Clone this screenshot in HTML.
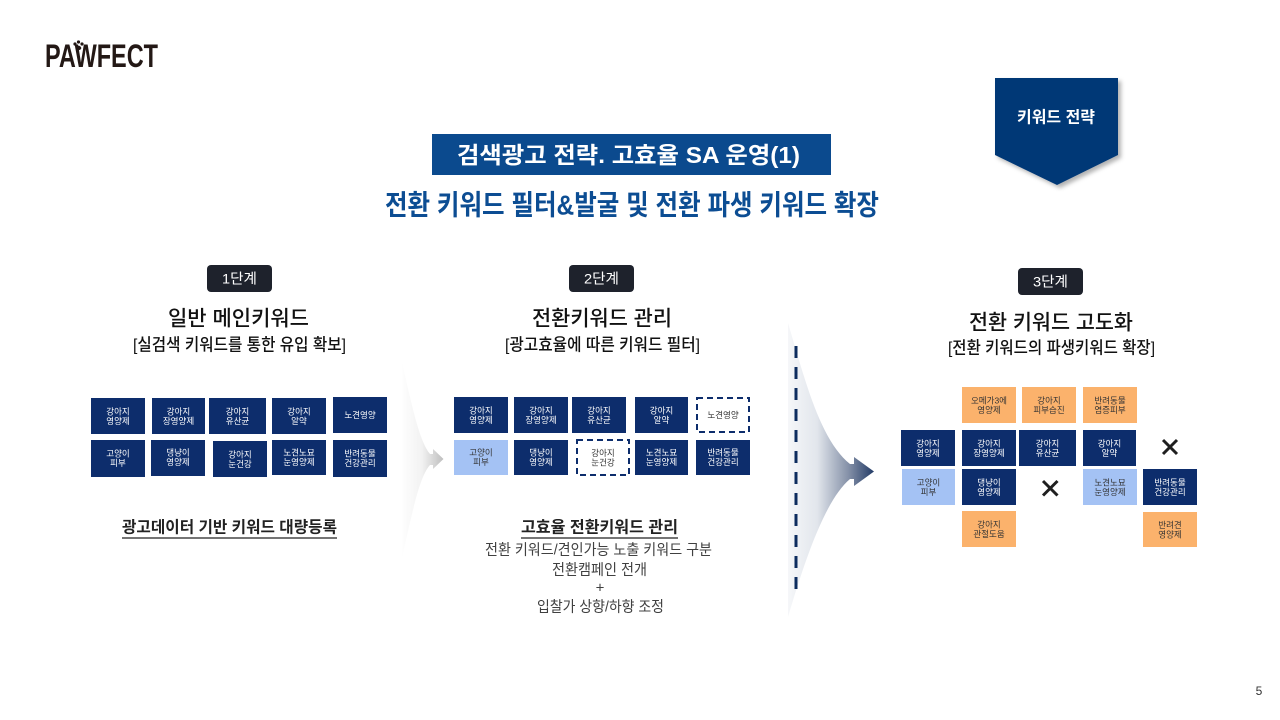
<!DOCTYPE html>
<html><head><meta charset="utf-8"><style>
html,body{margin:0;padding:0;background:#fff;}
svg{display:block;}
text{font-family:"Liberation Sans","Noto Sans CJK KR",sans-serif;}
.bw{fill:#fff;font-size:8.5px;text-anchor:middle;dominant-baseline:central;}
.bd{fill:#333;font-size:8.5px;text-anchor:middle;dominant-baseline:central;}
.navy{fill:#0d2d6c;}
.lb{fill:#a4c2f4;}
.or{fill:#fbb26c;}
</style></head><body>
<svg width="1280" height="720" viewBox="0 0 1280 720" xmlns="http://www.w3.org/2000/svg">
<defs>
<linearGradient id="g1" gradientUnits="userSpaceOnUse" x1="400" y1="0" x2="444" y2="0">
<stop offset="0" stop-color="#ffffff"/><stop offset="0.5" stop-color="#f2f2f2"/><stop offset="1" stop-color="#bdbdbd"/>
</linearGradient>
<linearGradient id="g2" gradientUnits="userSpaceOnUse" x1="786" y1="0" x2="875" y2="0">
<stop offset="0" stop-color="#f7f8fa"/><stop offset="0.35" stop-color="#e2e6ec"/><stop offset="0.7" stop-color="#8591a8"/><stop offset="1" stop-color="#1f3864"/>
</linearGradient>
<filter id="sh" x="-20%" y="-20%" width="140%" height="140%">
<feDropShadow dx="3" dy="3" stdDeviation="2" flood-color="#000" flood-opacity="0.3"/>
</filter>
</defs>

<!-- Logo -->
<text x="45" y="67" font-size="32" font-weight="bold" fill="#231815" textLength="113" lengthAdjust="spacingAndGlyphs">PAWFECT</text>
<g fill="#231815">
<circle cx="75" cy="44" r="1.6"/><circle cx="78.5" cy="42" r="1.6"/><circle cx="82" cy="44" r="1.6"/><ellipse cx="78.5" cy="48" rx="2.8" ry="2.2"/>
</g>

<!-- Title -->
<rect x="432" y="134" width="399" height="41" fill="#0b4a8e"/>
<text x="628.5" y="155" font-size="23" font-weight="bold" fill="#fff" text-anchor="middle" dominant-baseline="central" textLength="343" lengthAdjust="spacingAndGlyphs">검색광고 전략. 고효율 SA 운영(1)</text>
<text x="632" y="205" font-size="28" font-weight="bold" fill="#0c4d93" text-anchor="middle" dominant-baseline="central" textLength="494" lengthAdjust="spacingAndGlyphs">전환 키워드 필터&amp;발굴  및 전환 파생 키워드 확장</text>

<!-- Chevron -->
<path d="M995,78 L1118,78 L1118,155 L1057,185 L995,155 Z" fill="#063876" filter="url(#sh)"/>
<text x="1056" y="118" font-size="16" font-weight="bold" fill="#fff" text-anchor="middle" dominant-baseline="central" textLength="78" lengthAdjust="spacingAndGlyphs">키워드 전략</text>

<!-- Pills -->
<rect x="207" y="265" width="65" height="27" rx="4" fill="#1e222c"/>
<text x="239.5" y="278.5" font-size="14" fill="#fff" text-anchor="middle" dominant-baseline="central" textLength="35" lengthAdjust="spacingAndGlyphs">1단계</text>
<rect x="569" y="265" width="65" height="27" rx="4" fill="#1e222c"/>
<text x="601.5" y="278.5" font-size="14" fill="#fff" text-anchor="middle" dominant-baseline="central" textLength="35" lengthAdjust="spacingAndGlyphs">2단계</text>
<rect x="1018" y="268" width="65" height="27" rx="4" fill="#1e222c"/>
<text x="1050.5" y="281.5" font-size="14" fill="#fff" text-anchor="middle" dominant-baseline="central" textLength="35" lengthAdjust="spacingAndGlyphs">3단계</text>

<!-- Headings -->
<g fill="#111" text-anchor="middle" dominant-baseline="central">
<text x="238.5" y="319" font-size="21" font-weight="500" textLength="141" lengthAdjust="spacingAndGlyphs">일반 메인키워드</text>
<text x="239.5" y="345" font-size="17" font-weight="500" textLength="213" lengthAdjust="spacingAndGlyphs">[실검색 키워드를 통한 유입 확보]</text>
<text x="602" y="319" font-size="21" font-weight="500" textLength="140" lengthAdjust="spacingAndGlyphs">전환키워드 관리</text>
<text x="602.5" y="345" font-size="17" font-weight="500" textLength="195" lengthAdjust="spacingAndGlyphs">[광고효율에 따른 키워드 필터]</text>
<text x="1051" y="323" font-size="21" font-weight="500" textLength="164" lengthAdjust="spacingAndGlyphs">전환 키워드 고도화</text>
<text x="1051.5" y="348" font-size="17" font-weight="500" textLength="207" lengthAdjust="spacingAndGlyphs">[전환 키워드의 파생키워드 확장]</text>
</g>

<!-- Arrow 1 -->
<path d="M402,363 C410,395 418,440 430,454 L433,454 L433,449 L443.5,459 L433,469 L433,465 L430,465 C418,478 410,525 402,557 Z" fill="url(#g1)"/>

<!-- Arrow 2 -->
<path d="M788,323 C805,380 820,440 850,464 L854,464 L854,457 L874,471.5 L854,486 L854,479 L850,479 C825,500 805,560 788,617 Z" fill="url(#g2)"/>
<line x1="796" y1="346" x2="796" y2="589" stroke="#0d2c5e" stroke-width="3" stroke-dasharray="12 9"/>

<!-- Stage 1 boxes -->
<rect class="navy" x="91" y="398" width="54" height="36"/>
<text class="bw" x="118" y="411.5">강아지</text><text class="bw" x="118" y="421">영양제</text>
<rect class="navy" x="152" y="398" width="53" height="36"/>
<text class="bw" x="178.5" y="411.5">강아지</text><text class="bw" x="178.5" y="421">장영양제</text>
<rect class="navy" x="209" y="398" width="57" height="36"/>
<text class="bw" x="237.5" y="411.5">강아지</text><text class="bw" x="237.5" y="421">유산균</text>
<rect class="navy" x="272" y="398" width="54" height="36"/>
<text class="bw" x="299" y="411.5">강아지</text><text class="bw" x="299" y="421">알약</text>
<rect class="navy" x="333" y="397" width="54" height="36"/>
<text class="bw" x="360" y="415">노견영양</text>

<rect class="navy" x="91" y="440" width="54" height="37"/>
<text class="bw" x="118" y="453.5">고양이</text><text class="bw" x="118" y="463">피부</text>
<rect class="navy" x="151" y="440" width="54" height="36"/>
<text class="bw" x="178" y="452.5">댕냥이</text><text class="bw" x="178" y="462">영양제</text>
<rect class="navy" x="213" y="441" width="54" height="36"/>
<text class="bw" x="240" y="454.5">강아지</text><text class="bw" x="240" y="464">눈건강</text>
<rect class="navy" x="272" y="440" width="54" height="35"/>
<text class="bw" x="299" y="452.5">노견노묘</text><text class="bw" x="299" y="462" font-size="7.5">눈영양제</text>
<rect class="navy" x="333" y="440" width="54" height="37"/>
<text class="bw" x="360" y="453.5">반려동물</text><text class="bw" x="360" y="463">건강관리</text>

<!-- Stage 2 boxes -->
<rect class="navy" x="454" y="397" width="54" height="36"/>
<text class="bw" x="481" y="410.5">강아지</text><text class="bw" x="481" y="420">영양제</text>
<rect class="navy" x="514" y="397" width="54" height="36"/>
<text class="bw" x="541" y="410.5">강아지</text><text class="bw" x="541" y="420">장영양제</text>
<rect class="navy" x="572" y="397" width="54" height="36"/>
<text class="bw" x="599" y="410.5">강아지</text><text class="bw" x="599" y="420">유산균</text>
<rect class="navy" x="635" y="397" width="53" height="36"/>
<text class="bw" x="661.5" y="410.5">강아지</text><text class="bw" x="661.5" y="420">알약</text>
<rect x="697" y="398" width="52" height="34" fill="#fff" stroke="#0d2d6c" stroke-width="2" stroke-dasharray="6 4"/>
<text class="bd" x="723" y="415">노견영양</text>

<rect class="lb" x="454" y="440" width="54" height="35"/>
<text class="bd" x="481" y="452.5">고양이</text><text class="bd" x="481" y="462">피부</text>
<rect class="navy" x="514" y="440" width="54" height="35"/>
<text class="bw" x="541" y="452.5">댕냥이</text><text class="bw" x="541" y="462">영양제</text>
<rect x="577" y="440" width="52" height="35" fill="#fff" stroke="#0d2d6c" stroke-width="2" stroke-dasharray="6 4"/>
<text class="bd" x="603" y="453">강아지</text><text class="bd" x="603" y="462.5">눈건강</text>
<rect class="navy" x="635" y="440" width="53" height="35"/>
<text class="bw" x="661.5" y="452.5">노견노묘</text><text class="bw" x="661.5" y="462" font-size="7.5">눈영양제</text>
<rect class="navy" x="696" y="440" width="54" height="35"/>
<text class="bw" x="723" y="452.5">반려동물</text><text class="bw" x="723" y="462">건강관리</text>

<!-- Stage 3 boxes -->
<rect class="or" x="962" y="387" width="54" height="36"/>
<text class="bd" x="989" y="400.5">오메가3에</text><text class="bd" x="989" y="410">영양제</text>
<rect class="or" x="1022" y="387" width="54" height="36"/>
<text class="bd" x="1049" y="400.5">강아지</text><text class="bd" x="1049" y="410">피부습진</text>
<rect class="or" x="1083" y="387" width="54" height="36"/>
<text class="bd" x="1110" y="400.5">반려동물</text><text class="bd" x="1110" y="410">염증피부</text>

<rect class="navy" x="901" y="430" width="54" height="36"/>
<text class="bw" x="928" y="443.5">강아지</text><text class="bw" x="928" y="453">영양제</text>
<rect class="navy" x="962" y="430" width="54" height="36"/>
<text class="bw" x="989" y="443.5">강아지</text><text class="bw" x="989" y="453">장영양제</text>
<rect class="navy" x="1019" y="430" width="57" height="36"/>
<text class="bw" x="1047.5" y="443.5">강아지</text><text class="bw" x="1047.5" y="453">유산균</text>
<rect class="navy" x="1083" y="430" width="53" height="36"/>
<text class="bw" x="1109.5" y="443.5">강아지</text><text class="bw" x="1109.5" y="453">알약</text>

<rect class="lb" x="902" y="469" width="53" height="36"/>
<text class="bd" x="928.5" y="482.5">고양이</text><text class="bd" x="928.5" y="492">피부</text>
<rect class="navy" x="962" y="469" width="54" height="36"/>
<text class="bw" x="989" y="482.5">댕냥이</text><text class="bw" x="989" y="492">영양제</text>
<rect class="lb" x="1083" y="469" width="54" height="36"/>
<text class="bd" x="1110" y="482.5">노견노묘</text><text class="bd" x="1110" y="492">눈영양제</text>
<rect class="navy" x="1143" y="469" width="54" height="36"/>
<text class="bw" x="1170" y="482.5">반려동물</text><text class="bw" x="1170" y="492">건강관리</text>

<rect class="or" x="962" y="511" width="54" height="36"/>
<text class="bd" x="989" y="524.5">강아지</text><text class="bd" x="989" y="534">관절도움</text>
<rect class="or" x="1143" y="512" width="54" height="35"/>
<text class="bd" x="1170" y="525">반려견</text><text class="bd" x="1170" y="534.5">영양제</text>

<!-- X marks -->
<g stroke="#1f1f1f" stroke-width="3" stroke-linecap="butt">
<line x1="1163" y1="440" x2="1177" y2="454"/><line x1="1177" y1="440" x2="1163" y2="454"/>
<line x1="1043" y1="481" x2="1057.5" y2="495.5"/><line x1="1057.5" y1="481" x2="1043" y2="495.5"/>
</g>

<!-- Bottom texts -->
<text x="229.5" y="528" font-size="16" font-weight="bold" fill="#222" text-anchor="middle" dominant-baseline="central" textLength="215" lengthAdjust="spacingAndGlyphs">광고데이터 기반 키워드 대량등록</text>
<line x1="122" y1="538" x2="337" y2="538" stroke="#222" stroke-width="1.3"/>

<text x="599.5" y="528" font-size="16" font-weight="bold" fill="#222" text-anchor="middle" dominant-baseline="central" textLength="157" lengthAdjust="spacingAndGlyphs">고효율 전환키워드 관리</text>
<line x1="521" y1="538" x2="678" y2="538" stroke="#222" stroke-width="1.3"/>
<g fill="#404040" font-size="15" text-anchor="middle" dominant-baseline="central">
<text x="598.5" y="550" textLength="227" lengthAdjust="spacingAndGlyphs">전환 키워드/견인가능 노출 키워드 구분</text>
<text x="599.5" y="570" textLength="95" lengthAdjust="spacingAndGlyphs">전환캠페인 전개</text>
<text x="600" y="588">+</text>
<text x="600.5" y="607" textLength="127" lengthAdjust="spacingAndGlyphs">입찰가 상향/하향 조정</text>
</g>

<!-- Page number -->
<text x="1259" y="691" font-size="12" fill="#333" text-anchor="middle" dominant-baseline="central">5</text>
</svg>
</body></html>
